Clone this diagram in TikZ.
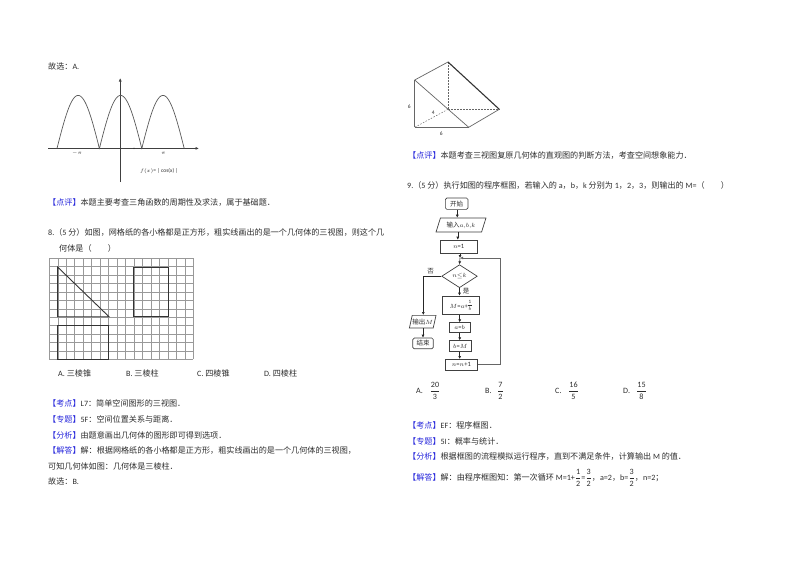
\documentclass[tikz,border=0pt]{standalone}
\usepackage{fontspec}
\setmainfont{Carlito}
\newfontfamily\cjk{Noto Sans CJK SC}
\usetikzlibrary{arrows.meta,shapes.geometric}
\newcommand{\zh}[1]{{\cjk #1}}
\newcommand{\frc}[2]{$\displaystyle\frac{\mbox{#1}}{\mbox{#2}}$}
\definecolor{tagblue}{RGB}{40,40,220}
\definecolor{ink}{RGB}{45,45,45}
\newcommand{\tagb}[1]{{\cjk\textcolor{tagblue}{【#1】}}}
\tikzset{
  txt/.style={anchor=west,inner sep=0pt,yshift=-.7pt,font=\fontsize{8.1}{9}\selectfont,text=ink},
  small/.style={inner sep=0pt,font=\fontsize{5.5}{6}\selectfont,text=ink},
  fbox/.style={draw=black!75,line width=.7pt,inner sep=0pt,font=\fontsize{6.5}{7}\selectfont,text=ink},
  term/.style={fbox,rounded corners=1.5pt},
  para/.style={fbox,trapezium,trapezium left angle=65,trapezium right angle=115,trapezium stretches=true},
  dec/.style={fbox,diamond,aspect=1.5},
  arr/.style={draw=black!85,line width=.6pt,-{Latex[length=3pt,width=3pt]}},
  gridl/.style={draw=black!40,line width=.45pt},
  heavy/.style={draw=black!80,line width=.9pt},
  edge/.style={draw=black!60,line width=.7pt},
  dashline/.style={draw=black!60,line width=.5pt,dash pattern=on 1.5pt off 1.5pt}
}
\begin{document}
\begin{tikzpicture}[x=1pt,y=-1pt]
\useasboundingbox[fill=white] (0,0) rectangle (800,565);
% left column text
\node[txt] (t1) at (48,66) {\zh{故选：}A.};
\node[txt] (t2) at (48,202) {\tagb{点评}\zh{本题主要考查三角函数的周期性及求法，属于基础题．}};
\node[txt] (t3) at (48,232) {8.\zh{（}5 \zh{分）如图，网格纸的各小格都是正方形，粗实线画出的是一个几何体的三视图，则这个几}};
\node[txt] (t4) at (59,248) {\zh{何体是（　　）}};
\node[txt] (oa) at (58,373) {A.~\zh{三棱锥}};
\node[txt] (ob) at (126,373) {B.~\zh{三棱柱}};
\node[txt] (oc) at (197,373) {C.~\zh{四棱锥}};
\node[txt] (od) at (264,373) {D.~\zh{四棱柱}};
\node[txt] (t5) at (48,403) {\tagb{考点}L7\zh{：简单空间图形的三视图．}};
\node[txt] (t6) at (48,419) {\tagb{专题}5F\zh{：空间位置关系与距离．}};
\node[txt] (t7) at (48,435) {\tagb{分析}\zh{由题意画出几何体的图形即可得到选项．}};
\node[txt] (t8) at (48,450) {\tagb{解答}\zh{解：根据网格纸的各小格都是正方形，粗实线画出的是一个几何体的三视图，}};
\node[txt] (t9) at (48,466) {\zh{可知几何体如图：几何体是三棱柱．}};
\node[txt] (t10) at (48,481) {\zh{故选：}B.};
% graph of |cos x|
\draw[edge,draw=black!75,-{Latex[length=3.5pt,width=3pt]}] (48,148.4) -- (199,148.4);
\draw[edge,draw=black!75,-{Latex[length=3.5pt,width=3pt]}] (120.2,182) -- (120.2,78);
\draw[draw=black!65,line width=.7pt,domain=-1.5:1.5,samples=121,smooth]
  plot ({120.6+\x*42.4},{148.4-53*abs(cos(\x*180))});
\fill[black!80] (134,148.4) circle (.8);
\node[small] (ml) at (77,153) {$-\pi$};
\node[small] (mr) at (163.5,153) {$\pi$};
\node[small] (fx) at (159,171) {$f(x)$= | cos(x) |};
% grid
\foreach \i in {0,...,17} \draw[gridl] ({49.3+\i*8.47},258.3) -- ({49.3+\i*8.47},359.3);
\foreach \j in {0,...,12} \draw[gridl] (49.3,{258.3+\j*8.42}) -- (193.3,{258.3+\j*8.42});
\draw[heavy] (57.6,267) -- (109,316.7) -- (57.6,316.7) -- cycle;
\draw[heavy] (133.7,267) rectangle (168,316.7);
\draw[heavy] (57.6,325.7) rectangle (108.7,359.3);
% solid
\coordinate (pa) at (414.7,80);
\coordinate (pb) at (448,62);
\coordinate (pc) at (499.3,109.3);
\coordinate (pd) at (468.7,127.3);
\coordinate (pe) at (414.7,127.3);
\coordinate (pf) at (448,109.3);
\draw[dashline] (pb) -- (pf);
\draw[dashline] (pf) -- (pc);
\draw[dashline] (pf) -- (pe);
\draw[edge] (pa) -- (pb);
\draw[heavy,line width=1.1pt] (pb) -- (pc);
\draw[edge] (pc) -- (pd);
\draw[edge] (pa) -- (pd);
\draw[edge,line width=1pt] (pa) -- (pe);
\draw[edge,line width=1.2pt] (pe) -- (pd);
\node[small] (l6a) at (409.3,107) {6};
\node[small] (l4) at (433.3,112.3) {4};
\node[small] (l6b) at (441.3,133.3) {6};
% right column text
\node[txt] (r1) at (408,155) {\tagb{点评}\zh{本题考查三视图复原几何体的直观图的判断方法，考查空间想象能力．}};
\node[txt] (r2) at (407,185) {9.\zh{（}5 \zh{分）执行如图的程序框图，若输入的} a\zh{，}b\zh{，}k \zh{分别为} 1\zh{，}2\zh{，}3\zh{，则输出的} M=\zh{（　　）}};
% flowchart
\node[term,minimum width=22.7pt,minimum height=11.3pt] (start) at (456.7,203.7) {\zh{开始}};
\node[para,minimum width=50pt,minimum height=14pt] (input) at (461,225) {\zh{输入}$a,\!b,\!k$};
\node[fbox,minimum width=37.3pt,minimum height=13.3pt] (n1) at (458.7,246.7) {$n$=1};
\coordinate (join) at (460,258);
\node[dec,minimum width=35.6pt,minimum height=23pt] (cond) at (459.5,276.2) {$n{\le}k$};
\node[fbox,minimum width=37pt,minimum height=18.7pt] (calc) at (460.8,305.4) {$M$=$a$+\raisebox{-2.6pt}{\shortstack{\tiny 1\\[-1.5pt]\rule{4pt}{.3pt}\\[-.5pt]\tiny $b$}}};
\node[fbox,minimum width=20.7pt,minimum height=10pt] (ab) at (459.7,327.7) {$a$=$b$};
\node[fbox,minimum width=22pt,minimum height=10.6pt] (bm) at (460.3,346) {$b$=$M$};
\node[fbox,minimum width=32pt,minimum height=10.7pt] (inc) at (461.3,364.7) {$n$=$n$+1};
\node[para,minimum width=26.7pt,minimum height=12.7pt] (out) at (422.7,321.7) {\zh{输出}$M$};
\node[term,minimum width=20.6pt,minimum height=10.7pt] (end) at (423,343.4) {\zh{结束}};
\node[inner sep=0pt,font=\fontsize{6.5}{7}\selectfont,text=ink] (no) at (430.7,271) {\zh{否}};
\node[inner sep=0pt,font=\fontsize{6.5}{7}\selectfont,text=ink] (yes) at (466,290.7) {\zh{是}};
\draw[arr] (457.3,0 |- start.south) -- (457.3,0 |- input.north);
\draw[arr] (457.8,0 |- input.south) -- (457.8,0 |- n1.north);
\draw[arr] (460,0 |- n1.south) -- (join);
\draw[arr] (join) -- (cond.north);
\draw[arr] (cond.south) -- (459.5,0 |- calc.north);
\draw[arr] (459.7,0 |- calc.south) -- (ab.north);
\draw[arr] (459.7,0 |- ab.south) -- (459.7,0 |- bm.north);
\draw[arr] (459.7,0 |- bm.south) -- (459.7,0 |- inc.north);
\draw[arr,draw=black!60] (inc.east) -- (500.7,0 |- inc.east) -- (500.7,258) -- (join);
\draw[arr] (cond.west) -- (423.3,0 |- cond.west) -- (423.3,0 |- out.north);
\draw[arr] (423,0 |- out.south) -- (end.north);
% answer options
\node[txt] (a9) at (416,390) {A.};
\node[txt] (a9f) at (429.5,390) {\frc{20}{3}};
\node[txt] (b9) at (485,390) {B.};
\node[txt] (b9f) at (497,390) {\frc{7}{2}};
\node[txt] (c9) at (555,390) {C.};
\node[txt] (c9f) at (568,390) {\frc{16}{5}};
\node[txt] (d9) at (623,390) {D.};
\node[txt] (d9f) at (636,390) {\frc{15}{8}};
\node[txt] (r3) at (408,425) {\tagb{考点}EF\zh{：程序框图．}};
\node[txt] (r4) at (408,441) {\tagb{专题}5I\zh{：概率与统计．}};
\node[txt] (r5) at (408,456) {\tagb{分析}\zh{根据框图的流程模拟运行程序，直到不满足条件，计算输出} M \zh{的值．}};
\node[txt] (r6) at (408,477) {\tagb{解答}\zh{解：由程序框图知：第一次循环} M=1+\frc{1}{2}=\frc{3}{2}\zh{，}a=2\zh{，}b=\frc{3}{2}\zh{，}n=2\zh{；}};
\end{tikzpicture}
\end{document}
